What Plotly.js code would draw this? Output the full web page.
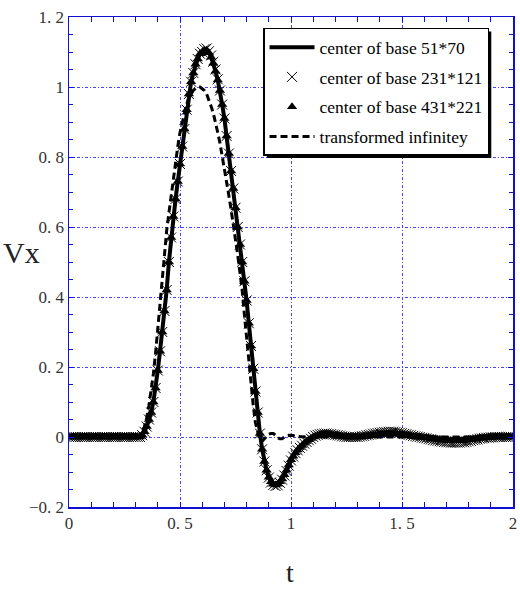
<!DOCTYPE html>
<html>
<head>
<meta charset="utf-8">
<script src="https://cdn.plot.ly/plotly-3.0.1.min.js"></script>
<style>html,body{margin:0;padding:0;background:#fff;}#chart{width:520px;height:591px;}</style>
</head>
<body>
<div id="chart"></div>
<script>
const t = [
0.00,0.01,0.02,0.03,0.04,0.05,0.06,0.07,0.08,0.09,
0.10,0.11,0.12,0.13,0.14,0.15,0.16,0.17,0.18,0.19,
0.20,0.21,0.22,0.23,0.24,0.25,0.26,0.27,0.28,0.29,
0.30,0.31,0.32,0.33,0.34,0.35,0.36,0.37,0.38,0.39,
0.40,0.41,0.42,0.43,0.44,0.45,0.46,0.47,0.48,0.49,
0.50,0.51,0.52,0.53,0.54,0.55,0.56,0.57,0.58,0.59,
0.60,0.61,0.62,0.63,0.64,0.65,0.66,0.67,0.68,0.69,
0.70,0.71,0.72,0.73,0.74,0.75,0.76,0.77,0.78,0.79,
0.80,0.81,0.82,0.83,0.84,0.85,0.86,0.87,0.88,0.89,
0.90,0.91,0.92,0.93,0.94,0.95,0.96,0.97,0.98,0.99,
1.00,1.01,1.02,1.03,1.04,1.05,1.06,1.07,1.08,1.09,
1.10,1.11,1.12,1.13,1.14,1.15,1.16,1.17,1.18,1.19,
1.20,1.21,1.22,1.23,1.24,1.25,1.26,1.27,1.28,1.29,
1.30,1.31,1.32,1.33,1.34,1.35,1.36,1.37,1.38,1.39,
1.40,1.41,1.42,1.43,1.44,1.45,1.46,1.47,1.48,1.49,
1.50,1.51,1.52,1.53,1.54,1.55,1.56,1.57,1.58,1.59,
1.60,1.61,1.62,1.63,1.64,1.65,1.66,1.67,1.68,1.69,
1.70,1.71,1.72,1.73,1.74,1.75,1.76,1.77,1.78,1.79,
1.80,1.81,1.82,1.83,1.84,1.85,1.86,1.87,1.88,1.89,
1.90,1.91,1.92,1.93,1.94,1.95,1.96,1.97,1.98,1.99,
2.00];

// center of base 51*70 (solid line)
const base51x70 = [
0,0,0,0,0,0,0,0,0,0,
0,0,0,0,0,0,0,0,0,0,
0,0,0,0,0,0,0,0,0,0,
0,0,0,0.005,0.015,0.03,0.05,0.07,0.10,0.14,
0.19,0.245,0.30,0.36,0.42,0.50,0.57,0.63,0.68,0.73,
0.78,0.83,0.88,0.935,0.98,1.015,1.04,1.065,1.08,1.095,
1.10,1.105,1.105,1.098,1.085,1.068,1.045,1.02,0.99,0.95,
0.91,0.86,0.81,0.76,0.71,0.655,0.60,0.55,0.50,0.445,
0.39,0.325,0.26,0.195,0.13,0.07,0.01,-0.035,-0.07,-0.095,
-0.115,-0.128,-0.135,-0.137,-0.135,-0.128,-0.12,-0.108,-0.095,-0.08,
-0.065,-0.055,-0.045,-0.037,-0.03,-0.024,-0.018,-0.013,-0.008,-0.004,
0,0.003,0.005,0.007,0.008,0.008,0.008,0.008,0.007,0.006,
0.005,0.004,0.003,0.002,0.001,0,0,0,0,0,
0,0,0.001,0.002,0.003,0.004,0.005,0.006,0.007,0.008,
0.009,0.0095,0.010,0.0105,0.011,0.011,0.011,0.0105,0.010,0.009,
0.008,0.007,0.006,0.005,0.004,0.003,0.002,0.001,0,-0.001,
-0.002,-0.003,-0.004,-0.005,-0.006,-0.007,-0.008,-0.009,-0.010,-0.0105,
-0.011,-0.0115,-0.012,-0.012,-0.012,-0.012,-0.012,-0.0115,-0.011,-0.010,
-0.009,-0.008,-0.007,-0.006,-0.005,-0.004,-0.003,-0.0025,-0.002,-0.0015,
-0.001,-0.0005,0,0,0,0,0,0,0,0,
0];

// center of base 231*121 (x markers)
const base231x121 = [
0,0,0,0,0,0,0,0,0,0,
0,0,0,0,0,0,0,0,0,0,
0,0,0,0,0,0,0,0,0,0,
0,0,0,0.005,0.015,0.03,0.05,0.07,0.10,0.14,
0.19,0.245,0.30,0.36,0.42,0.50,0.57,0.63,0.68,0.73,
0.78,0.83,0.88,0.935,0.98,1.015,1.04,1.065,1.08,1.095,
1.10,1.108,1.11,1.102,1.09,1.072,1.05,1.022,0.99,0.95,
0.91,0.86,0.81,0.76,0.71,0.655,0.60,0.55,0.50,0.445,
0.39,0.325,0.26,0.195,0.13,0.07,0.01,-0.035,-0.07,-0.095,
-0.116,-0.13,-0.137,-0.14,-0.138,-0.131,-0.122,-0.11,-0.097,-0.082,
-0.067,-0.056,-0.046,-0.038,-0.031,-0.025,-0.019,-0.014,-0.009,-0.005,
0,0.004,0.006,0.008,0.009,0.010,0.010,0.009,0.008,0.007,
0.006,0.005,0.004,0.002,0.001,0,0,0,0,0,
0,0.001,0.002,0.003,0.005,0.006,0.007,0.009,0.010,0.011,
0.012,0.013,0.014,0.014,0.015,0.015,0.015,0.014,0.013,0.012,
0.011,0.009,0.008,0.006,0.005,0.003,0.002,0.001,0,-0.002,
-0.003,-0.004,-0.006,-0.007,-0.009,-0.010,-0.011,-0.012,-0.013,-0.014,
-0.015,-0.015,-0.016,-0.016,-0.016,-0.016,-0.016,-0.015,-0.015,-0.014,
-0.012,-0.011,-0.009,-0.008,-0.007,-0.005,-0.004,-0.003,-0.002,-0.002,
-0.001,-0.001,0,0,0,0,0,0,0,0,
0];

// center of base 431*221 (triangle markers)
const base431x221 = [
0,0,0,0,0,0,0,0,0,0,
0,0,0,0,0,0,0,0,0,0,
0,0,0,0,0,0,0,0,0,0,
0,0,0,0.005,0.015,0.03,0.05,0.07,0.10,0.14,
0.19,0.245,0.30,0.36,0.42,0.50,0.57,0.63,0.68,0.73,
0.78,0.83,0.88,0.935,0.98,1.015,1.04,1.065,1.08,1.095,
1.10,1.105,1.105,1.098,1.085,1.068,1.045,1.02,0.99,0.95,
0.91,0.86,0.81,0.76,0.71,0.655,0.60,0.55,0.50,0.445,
0.39,0.325,0.26,0.195,0.13,0.07,0.01,-0.035,-0.07,-0.095,
-0.115,-0.128,-0.135,-0.137,-0.135,-0.128,-0.12,-0.108,-0.095,-0.08,
-0.065,-0.055,-0.045,-0.037,-0.03,-0.024,-0.018,-0.013,-0.008,-0.004,
0,0.003,0.005,0.007,0.008,0.008,0.008,0.008,0.007,0.006,
0.005,0.004,0.003,0.002,0.001,0,0,0,0,0,
0,0,0.001,0.002,0.002,0.003,0.004,0.005,0.006,0.006,
0.007,0.008,0.008,0.009,0.009,0.009,0.009,0.009,0.008,0.008,
0.007,0.006,0.005,0.004,0.003,0.002,0.001,0.001,0,-0.001,
-0.002,-0.002,-0.003,-0.004,-0.005,-0.006,-0.007,-0.007,-0.008,-0.009,
-0.009,-0.010,-0.010,-0.010,-0.010,-0.010,-0.010,-0.010,-0.009,-0.008,
-0.008,-0.007,-0.006,-0.005,-0.004,-0.003,-0.003,-0.002,-0.002,-0.001,
-0.001,-0.0005,0,0,0,0,0,0,0,0,
0];

// transformed infinitey (dashed line)
const transformedInf = [
0,0,0,0,0,0,0,0,0,0,
0,0,0,0,0,0,0,0,0,0,
0,0,0,0,0,0,0,0,0,0,
0,0.002,0.005,0.012,0.03,0.055,0.09,0.13,0.18,0.24,
0.31,0.385,0.46,0.53,0.59,0.64,0.69,0.74,0.79,0.83,
0.87,0.90,0.93,0.95,0.97,0.982,0.99,0.996,1.0,1.0,
0.995,0.99,0.98,0.965,0.945,0.925,0.90,0.87,0.84,0.805,
0.77,0.73,0.69,0.65,0.61,0.565,0.52,0.47,0.42,0.35,
0.28,0.215,0.15,0.09,0.04,0.01,-0.01,-0.012,-0.005,0.003,
0.008,0.01,0.01,0.005,-0.002,-0.005,-0.005,0,0.004,0.005,
0.005,0.004,0.002,0.001,0,0,0,0,0,0,
0,0,0,0,0,0,0,0,0,0,
0,0,0,0,0,0,0,0,0,0,
0,0,0,0,0,0,0,0,0,0,
0,0,0,0,0,0,0,0,0,0,
0,0,0,0,0,0,0,0,0,0,
0,0,0,0,0,0,0,0,0,0,
0,0,0,0,0,0,0,0,0,0,
0,0,0,0,0,0,0,0,0,0,
0,0,0,0,0,0,0,0,0,0,
0];

const xTickVals = [0,0.5,1,1.5,2];
const xTickText = ["0","0. 5","1","1. 5","2"];
const yTickVals = [-0.2,0,0.2,0.4,0.6,0.8,1.0,1.2];
const yTickText = ["\u22120. 2","0","0. 2","0. 4","0. 6","0. 8","1","1. 2"];

const seriesNames = ["center of base 51*70","center of base 231*121","center of base 431*221","transformed infinitey"];

const serif = "Liberation Serif";
const blue = "#1010d0";
const gridBlue = "#4444ff";

const traces = [
  {x:t, y:base51x70, name:seriesNames[0], type:"scatter", mode:"lines",
   line:{color:"#000", width:4}, legendgroup:"a"},
  {x:t, y:base231x121, name:seriesNames[1], type:"scatter", mode:"markers",
   marker:{symbol:"x-thin-open", size:10, color:"#000", line:{color:"#000", width:1}}, legendgroup:"b"},
  {x:t, y:base431x221, name:seriesNames[2], type:"scatter", mode:"markers",
   marker:{symbol:"triangle-up", size:9, color:"#000"}, legendgroup:"c"},
  {x:t, y:transformedInf, name:seriesNames[3], type:"scatter", mode:"lines",
   line:{color:"#000", width:3, dash:"7px,4px"}, legendgroup:"d"}
];

const axisCommon = {
  showline:true, linecolor:blue, linewidth:1.5, mirror:"allticks",
  ticks:"inside", ticklen:5, tickcolor:blue, tickwidth:1,
  showgrid:true, gridcolor:gridBlue, gridwidth:1, griddash:"3px,2px,1px,2px",
  zeroline:false, tickmode:"array",
  tickfont:{family:serif, size:17, color:"#333"}
};

const layout = {
  width:520, height:591,
  margin:{l:69, r:7, t:17, b:84},
  paper_bgcolor:"#fff", plot_bgcolor:"#fff",
  showlegend:true,
  legend:{x:0.437, y:0.978, xanchor:"left", yanchor:"top",
    bgcolor:"#fff", bordercolor:"#000", borderwidth:1.5,
    font:{family:serif, size:17.5, color:"#000"},
    traceorder:"grouped", tracegroupgap:4, itemwidth:45},
  xaxis:Object.assign({}, axisCommon, {range:[0,2], tickvals:xTickVals, ticktext:xTickText,
    minor:{dtick:0.1, ticks:"inside", ticklen:5, tickcolor:blue, showgrid:false}}),
  yaxis:Object.assign({}, axisCommon, {range:[-0.2,1.2], tickvals:yTickVals, ticktext:yTickText,
    minor:{dtick:0.05, ticks:"inside", ticklen:4, tickcolor:blue, showgrid:false}}),
  annotations:[
    {text:"Vx", xref:"paper", yref:"paper", x:-0.06, y:0.52, xanchor:"right", yanchor:"middle",
     showarrow:false, font:{family:serif, size:30, color:"#222"}},
    {text:"t", xref:"paper", yref:"paper", x:0.497, y:-0.133, xanchor:"center", yanchor:"middle",
     showarrow:false, font:{family:serif, size:28, color:"#222"}}
  ]
};

Plotly.newPlot("chart", traces, layout, {displayModeBar:false, staticPlot:true}).then(function(gd){
  const bg = gd.querySelector(".legend .bg");
  if (!bg) return;
  const r = bg.getBoundingClientRect();
  const c = gd.getBoundingClientRect();
  const s = gd._fullLayout._size;
  const off = 3;
  const px = v => (v - c.left - s.l) / s.w;
  const py = v => 1 - (v - c.top - s.t) / s.h;
  return Plotly.relayout(gd, {shapes:[{type:"rect", xref:"paper", yref:"paper", layer:"above",
    x0:px(r.left+off), x1:px(r.right+off), y0:py(r.bottom+off), y1:py(r.top+off),
    fillcolor:"#000", line:{width:0}}]});
});
</script>
</body>
</html>
